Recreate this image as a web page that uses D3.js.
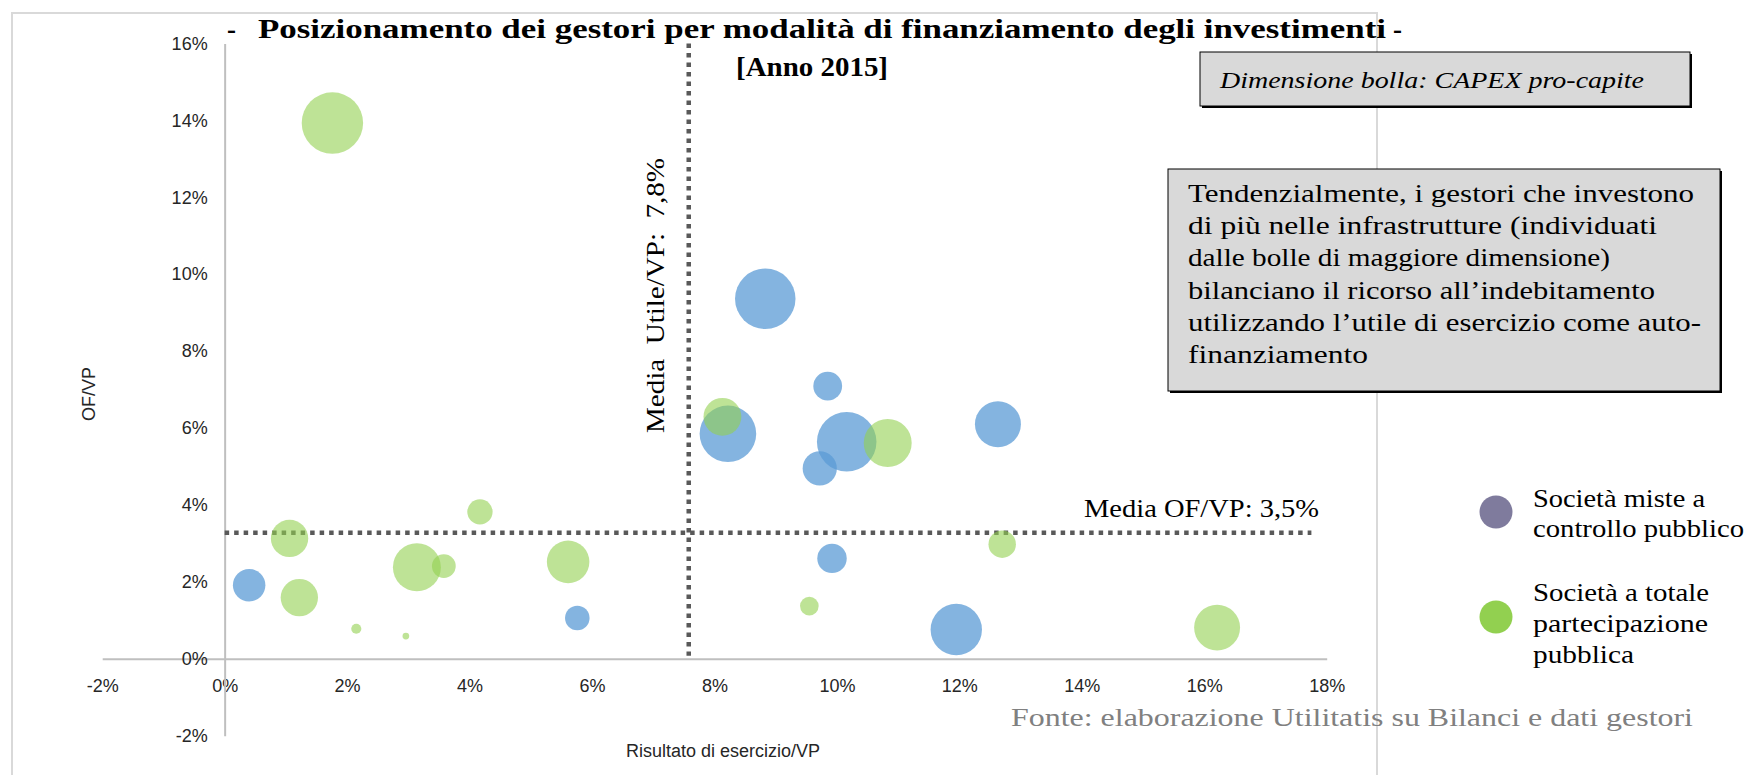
<!DOCTYPE html>
<html>
<head>
<meta charset="utf-8">
<script src="https://cdn.jsdelivr.net/npm/d3@7/dist/d3.min.js"></script>
<style>
  html, body { margin: 0; padding: 0; background: #fff; }
  svg { display: block; }
  text { white-space: pre; }
</style>
</head>
<body>
<script>
// ---------- DATA ----------
const xTicks = [-2, 0, 2, 4, 6, 8, 10, 12, 14, 16, 18];
const yTicks = [-2, 0, 2, 4, 6, 8, 10, 12, 14, 16];

// Società miste a controllo pubblico (blue)
const blueX     = [0.40, 5.76, 8.83, 8.22, 9.85, 9.72, 10.16, 9.92, 12.63, 11.95];
const blueY     = [1.91, 1.06, 9.36, 5.85, 7.09, 4.95, 5.64, 2.61, 6.10, 0.76];
const blueCapex = [28, 16, 97, 85, 22, 31, 94, 23, 56, 70];

// Società a totale partecipazione pubblica (green)
const greenX     = [1.76, 1.06, 1.22, 2.15, 2.96, 3.14, 3.58, 4.17, 5.61, 8.13, 9.55, 10.83, 12.70, 16.21];
const greenY     = [13.93, 3.13, 1.59, 0.78, 0.59, 2.38, 2.41, 3.82, 2.52, 6.29, 1.37, 5.61, 2.98, 0.81];
const greenCapex = [100, 37, 37, 2.7, 1.2, 61, 15, 17, 48, 38, 9.2, 61, 20, 56];

const meanLineX = 7.58;   // position of "Media Utile/VP" line
const meanLineY = 3.28;   // position of "Media OF/VP" line

const titleText = "Posizionamento dei gestori per modalità di finanziamento degli investimenti";
const subtitleText = "[Anno 2015]";
const xAxisTitle = "Risultato di esercizio/VP";
const yAxisTitle = "OF/VP";
const bubbleNote = "Dimensione bolla: CAPEX pro-capite";
const noteLines = [
  "Tendenzialmente, i gestori che investono",
  "di più nelle infrastrutture (individuati",
  "dalle bolle di maggiore dimensione)",
  "bilanciano il ricorso all\u2019indebitamento",
  "utilizzando l\u2019utile di esercizio come auto-",
  "finanziamento"
];
const noteWidths = [506, 469, 422, 467, 513, 180];
const legendLabels = [["Società miste a", "controllo pubblico"], ["Società a totale", "partecipazione", "pubblica"]];
const legendColors = ["#7f7b9d", "#92d050"];
const sourceText = "Fonte: elaborazione Utilitatis su Bilanci e dati gestori";

// ---------- CHART ----------
const W = 1752, H = 775;
const svg = d3.select("body").append("svg").attr("width", W).attr("height", H);
const serif = "'Liberation Serif', 'Times New Roman', serif";
const sans = "'Liberation Sans', Arial, sans-serif";

const x = d3.scaleLinear().domain([-2, 18]).range([102.2, 1326.7]);
const y = d3.scaleLinear().domain([-2, 16]).range([735.7, 43.4]);
const r = d3.scaleSqrt().domain([0, 100]).range([0, 30.7]);

// outer frame
svg.append("path")
  .attr("d", "M12,775 V13 H1377 V775")
  .attr("fill", "none").attr("stroke", "#d9d9d9").attr("stroke-width", 2);

// axes
const fmt = d => (d < 0 ? "-" + Math.abs(d) : d) + "%";
const gx = svg.append("g").attr("transform", `translate(0,${y(0)})`)
  .call(d3.axisBottom(x).tickValues(xTicks).tickFormat(fmt).tickSize(0).tickPadding(20));
const gy = svg.append("g").attr("transform", `translate(${x(0)},0)`)
  .call(d3.axisLeft(y).tickValues(yTicks).tickFormat(fmt).tickSize(0).tickPadding(17));
[gx, gy].forEach(g => {
  g.select(".domain").attr("stroke", "#bfbfbf").attr("stroke-width", 2);
  g.selectAll("text").attr("font-family", sans).attr("font-size", 18).attr("fill", "#262626");
});

// axis titles
svg.append("text").attr("x", 723).attr("y", 757).attr("text-anchor", "middle")
  .attr("font-family", sans).attr("font-size", 18).attr("fill", "#262626").text(xAxisTitle);
svg.append("text").attr("transform", "translate(95,394) rotate(-90)").attr("text-anchor", "middle")
  .attr("font-family", sans).attr("font-size", 18).attr("fill", "#262626").text(yAxisTitle);

// mean lines
svg.append("line")
  .attr("x1", x(meanLineX)).attr("x2", x(meanLineX)).attr("y1", y(16)).attr("y2", y(0) - 3)
  .attr("stroke", "#595959").attr("stroke-width", 4.5).attr("stroke-dasharray", "4.5,5");
svg.append("line")
  .attr("x1", x(0)).attr("x2", x(17.75)).attr("y1", y(meanLineY)).attr("y2", y(meanLineY))
  .attr("stroke", "#595959").attr("stroke-width", 4.5).attr("stroke-dasharray", "4.5,5");

// bubbles
const blue = blueX.map((d, i) => ({ x: d, y: blueY[i], c: blueCapex[i] }));
const green = greenX.map((d, i) => ({ x: d, y: greenY[i], c: greenCapex[i] }));
svg.append("g").selectAll("circle").data(blue).join("circle")
  .attr("cx", d => x(d.x)).attr("cy", d => y(d.y)).attr("r", d => r(d.c))
  .attr("fill", "#5b9bd5").attr("fill-opacity", 0.75);
svg.append("g").selectAll("circle").data(green).join("circle")
  .attr("cx", d => x(d.x)).attr("cy", d => y(d.y)).attr("r", d => r(d.c))
  .attr("fill", "#92d050").attr("fill-opacity", 0.6);

// mean labels
svg.append("text").attr("x", 1319).attr("y", 517).attr("text-anchor", "end")
  .attr("font-family", serif).attr("font-size", 25).attr("fill", "#000")
  .attr("textLength", 235).attr("lengthAdjust", "spacingAndGlyphs")
  .text("Media OF/VP: 3,5%");
svg.append("text").attr("transform", "translate(664,433) rotate(-90)")
  .attr("font-family", serif).attr("font-size", 25).attr("fill", "#000")
  .attr("textLength", 275).attr("lengthAdjust", "spacingAndGlyphs")
  .text("Media  Utile/VP:  7,8%");

// title
svg.append("text").attr("x", 227).attr("y", 38)
  .attr("font-family", serif).attr("font-weight", "bold").attr("font-size", 27).text("-");
svg.append("text").attr("x", 258).attr("y", 38)
  .attr("font-family", serif).attr("font-weight", "bold").attr("font-size", 27)
  .attr("textLength", 1128).attr("lengthAdjust", "spacingAndGlyphs").text(titleText);
svg.append("text").attr("x", 1393).attr("y", 38)
  .attr("font-family", serif).attr("font-weight", "bold").attr("font-size", 27).text("-");
svg.append("text").attr("x", 736).attr("y", 76)
  .attr("font-family", serif).attr("font-weight", "bold").attr("font-size", 27)
  .attr("textLength", 152).attr("lengthAdjust", "spacingAndGlyphs").text(subtitleText);

// boxes
function box(x0, y0, w, h) {
  svg.append("rect").attr("x", x0 + 2).attr("y", y0 + 2).attr("width", w).attr("height", h).attr("fill", "#000");
  svg.append("rect").attr("x", x0).attr("y", y0).attr("width", w).attr("height", h)
    .attr("fill", "#d9d9d9").attr("stroke", "#000").attr("stroke-width", 1);
}
box(1200, 52, 490, 54);
svg.append("text").attr("x", 1220).attr("y", 88)
  .attr("font-family", serif).attr("font-style", "italic").attr("font-size", 24)
  .attr("textLength", 424).attr("lengthAdjust", "spacingAndGlyphs").text(bubbleNote);

box(1168, 169, 552, 222);
svg.append("g").selectAll("text").data(noteLines).join("text")
  .attr("x", 1188).attr("y", (d, i) => 202 + i * 32.2)
  .attr("font-family", serif).attr("font-size", 26)
  .attr("textLength", (d, i) => noteWidths[i]).attr("lengthAdjust", "spacingAndGlyphs")
  .text(d => d);

// legend
const legY = [512, 617];
legendColors.forEach((c, i) => {
  svg.append("circle").attr("cx", 1496).attr("cy", legY[i]).attr("r", 16.5).attr("fill", c);
});
const legLines = [
  { t: legendLabels[0][0], y: 507, w: 172 }, { t: legendLabels[0][1], y: 537, w: 211 },
  { t: legendLabels[1][0], y: 601, w: 176 }, { t: legendLabels[1][1], y: 632, w: 175 },
  { t: legendLabels[1][2], y: 663, w: 101 }
];
svg.append("g").selectAll("text").data(legLines).join("text")
  .attr("x", 1533).attr("y", d => d.y)
  .attr("font-family", serif).attr("font-size", 26)
  .attr("textLength", d => d.w).attr("lengthAdjust", "spacingAndGlyphs")
  .text(d => d.t);

// source
svg.append("text").attr("x", 1011).attr("y", 726)
  .attr("font-family", serif).attr("font-size", 26).attr("fill", "#808080")
  .attr("textLength", 682).attr("lengthAdjust", "spacingAndGlyphs").text(sourceText);
</script>
</body>
</html>
